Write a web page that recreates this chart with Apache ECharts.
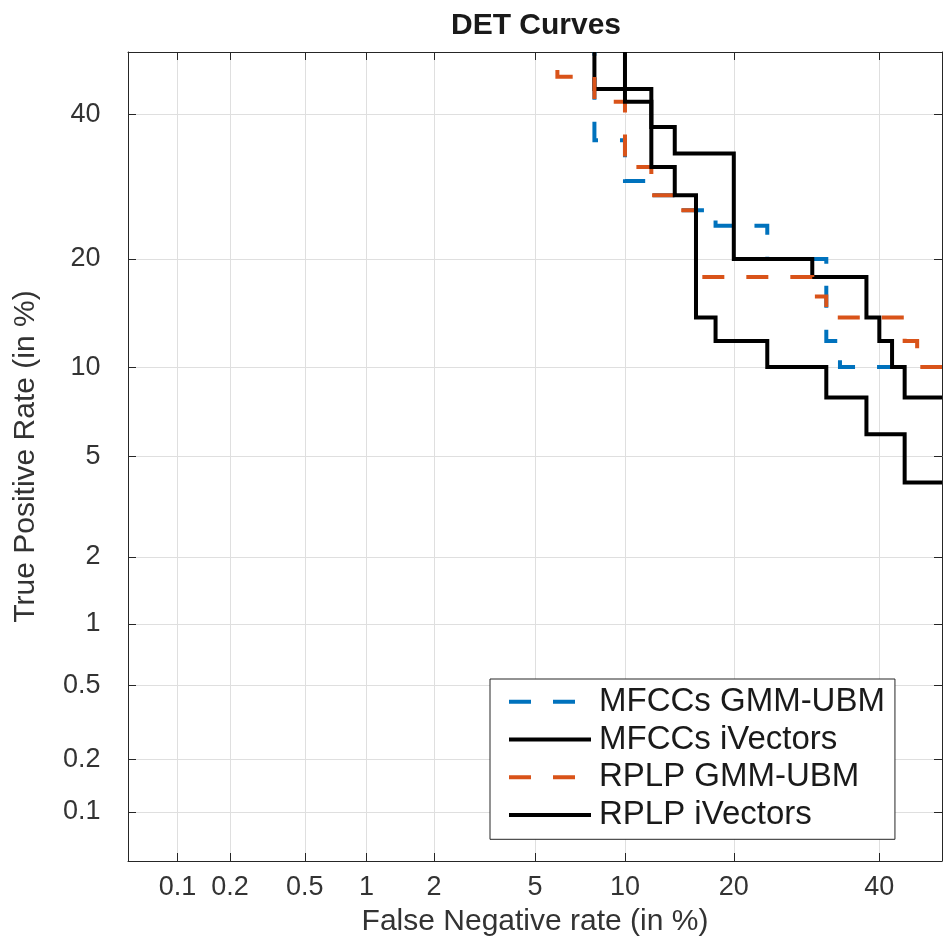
<!DOCTYPE html>
<html>
<head>
<meta charset="utf-8">
<script src="https://cdn.jsdelivr.net/npm/echarts@6/dist/echarts.min.js"></script>
<style>html,body{margin:0;padding:0;background:#fff}#c{width:943px;height:942px}</style>
</head>
<body>
<div id="c"></div>
<script>
// ---- data (percent values) ----
const tickPercents = [0.1, 0.2, 0.5, 1, 2, 5, 10, 20, 40];
const tickLabels = ['0.1', '0.2', '0.5', '1', '2', '5', '10', '20', '40'];
const axisMinPercent = 0.05;
const axisMaxPercent = 50;

const seriesNames = ['MFCCs GMM-UBM', 'MFCCs iVectors', 'RPLP GMM-UBM', 'RPLP iVectors'];

const mfccGmmFnr = [8, 8, 10, 10, 12, 12, 14, 14, 18, 18, 24, 24, 32, 32, 34, 34, 50];
const mfccGmmTpr = [50, 36, 36, 30, 30, 28, 28, 26, 26, 24, 24, 20, 20, 12, 12, 10, 10];

const mfccIvFnr = [8, 8, 12, 12, 14, 14, 20, 20, 30, 30, 38, 38, 40, 40, 42, 42, 44, 44, 50];
const mfccIvTpr = [50, 44, 44, 38, 38, 34, 34, 20, 20, 18, 18, 14, 14, 12, 12, 10, 10, 8, 8];

const rplpGmmFnr = [6, 6, 8, 8, 10, 10, 12, 12, 14, 14, 16, 16, 30, 30, 32, 32, 44, 44, 46, 46, 50];
const rplpGmmTpr = [50, 46, 46, 42, 42, 32, 32, 28, 28, 26, 26, 18, 18, 16, 16, 14, 14, 12, 12, 10, 10];

const rplpIvFnr = [10, 10, 12, 12, 14, 14, 16, 16, 18, 18, 24, 24, 32, 32, 38, 38, 44, 44, 50];
const rplpIvTpr = [50, 42, 42, 32, 32, 28, 28, 14, 14, 12, 12, 10, 10, 8, 8, 6, 6, 4, 4];

// ---- normal deviate (probit) scale ----
function probit(p) {
  const a = [-3.969683028665376e+01, 2.209460984245205e+02, -2.759285104469687e+02, 1.383577518672690e+02, -3.066479806614716e+01, 2.506628277459239e+00];
  const b = [-5.447609879822406e+01, 1.615858368580409e+02, -1.556989798598866e+02, 6.680131188771972e+01, -1.328068155288572e+01];
  const c = [-7.784894002430293e-03, -3.223964580411365e-01, -2.400758277161838e+00, -2.549732539343734e+00, 4.374664141464968e+00, 2.938163982698783e+00];
  const d = [7.784695709041462e-03, 3.224671290700398e-01, 2.445134137142996e+00, 3.754408661907416e+00];
  const plow = 0.02425, phigh = 1 - plow;
  let q, r;
  if (p < plow) {
    q = Math.sqrt(-2 * Math.log(p));
    return (((((c[0]*q+c[1])*q+c[2])*q+c[3])*q+c[4])*q+c[5]) / ((((d[0]*q+d[1])*q+d[2])*q+d[3])*q+1);
  }
  if (p <= phigh) {
    q = p - 0.5; r = q * q;
    return (((((a[0]*r+a[1])*r+a[2])*r+a[3])*r+a[4])*r+a[5])*q / (((((b[0]*r+b[1])*r+b[2])*r+b[3])*r+b[4])*r+1);
  }
  q = Math.sqrt(-2 * Math.log(1 - p));
  return -(((((c[0]*q+c[1])*q+c[2])*q+c[3])*q+c[4])*q+c[5]) / ((((d[0]*q+d[1])*q+d[2])*q+d[3])*q+1);
}
const pr = v => probit(v / 100);
const tickValues = tickPercents.map(pr);
function tickFormatter(v) {
  let best = 0, bd = Infinity;
  tickValues.forEach((t, i) => { const dd = Math.abs(t - v); if (dd < bd) { bd = dd; best = i; } });
  return tickLabels[best];
}
function toPoints(xs, ys) { return xs.map((x, i) => [pr(x), pr(ys[i])]); }

const FONT = 'Liberation Sans, Arial, Helvetica, sans-serif';
const AXC = '#262626';
const axMin = pr(axisMinPercent), axMax = pr(axisMaxPercent);

function mainAxis(pos, name, nameGap, labelMargin) {
  return {
    type: 'value', position: pos, min: axMin, max: axMax,
    name: name, nameLocation: 'middle', nameGap: nameGap,
    nameTextStyle: { fontFamily: FONT, fontSize: 30, color: '#333', lineHeight: 30 },
    axisLine: { show: true, onZero: false, lineStyle: { color: AXC, width: 1 } },
    axisTick: { show: true, inside: true, length: 8, customValues: tickValues, lineStyle: { color: AXC, width: 1 } },
    axisLabel: { show: true, customValues: tickValues, formatter: tickFormatter, margin: labelMargin,
      fontFamily: FONT, fontSize: 27, color: '#333', lineHeight: 27 },
    splitLine: { show: true, lineStyle: { color: '#dfdfdf', width: 1 } },
    minorTick: { show: false }
  };
}
function boxAxis(pos) {
  return {
    type: 'value', position: pos, min: axMin, max: axMax,
    axisLine: { show: true, onZero: false, lineStyle: { color: AXC, width: 1 } },
    axisTick: { show: true, inside: true, length: 8, customValues: tickValues, lineStyle: { color: AXC, width: 1 } },
    axisLabel: { show: false },
    splitLine: { show: false }
  };
}

function lineSeries(name, xs, ys, color, dashed, offset) {
  return {
    name: name, type: 'line', xAxisIndex: 0, yAxisIndex: 0,
    data: toPoints(xs, ys), showSymbol: false, symbol: 'none', clip: true,
    lineStyle: { color: color, width: 4, type: dashed ? [22, 22] : 'solid', dashOffset: offset || 0, cap: 'butt', join: 'miter' },
    itemStyle: { color: color },
    emphasis: { disabled: true }
  };
}

const chart = echarts.init(document.getElementById('c'), null, { renderer: 'canvas' });
chart.setOption({
  animation: false,
  backgroundColor: '#fff',
  title: {
    text: 'DET Curves', left: 451, top: 11, padding: 0,
    textStyle: { fontFamily: FONT, fontSize: 30, fontWeight: 'bold', color: '#1a1a1a', lineHeight: 30 }
  },
  grid: { left: 128, top: 52, width: 814, height: 815 },
  xAxis: [mainAxis('bottom', 'False Negative rate (in %)', 46, 13), boxAxis('top')],
  yAxis: [mainAxis('left', 'True Positive Rate (in %)', 87.5, 27.5), boxAxis('right')],
  legend: {
    orient: 'vertical', left: 490, top: 679,
    padding: [3.8, 10, 5.3, 17],
    itemWidth: 82, itemHeight: 14, itemGap: 0,
    backgroundColor: '#fff', borderColor: AXC, borderWidth: 1, borderRadius: 0,
    textStyle: { fontFamily: FONT, fontSize: 33, color: '#1a1a1a', lineHeight: 37.8, padding: [0, 0, 0, 3] },
    lineStyle: { width: 4, dashOffset: 0, cap: 'butt' },
    itemStyle: { opacity: 0, borderWidth: 0 },
    selectedMode: false,
    data: seriesNames
  },
  series: [
    lineSeries(seriesNames[0], mfccGmmFnr, mfccGmmTpr, '#0072BD', true, 18.3),
    lineSeries(seriesNames[1], mfccIvFnr, mfccIvTpr, '#000000', false),
    lineSeries(seriesNames[2], rplpGmmFnr, rplpGmmTpr, '#D95319', true, 26),
    lineSeries(seriesNames[3], rplpIvFnr, rplpIvTpr, '#000000', false)
  ]
});
</script>
</body>
</html>
